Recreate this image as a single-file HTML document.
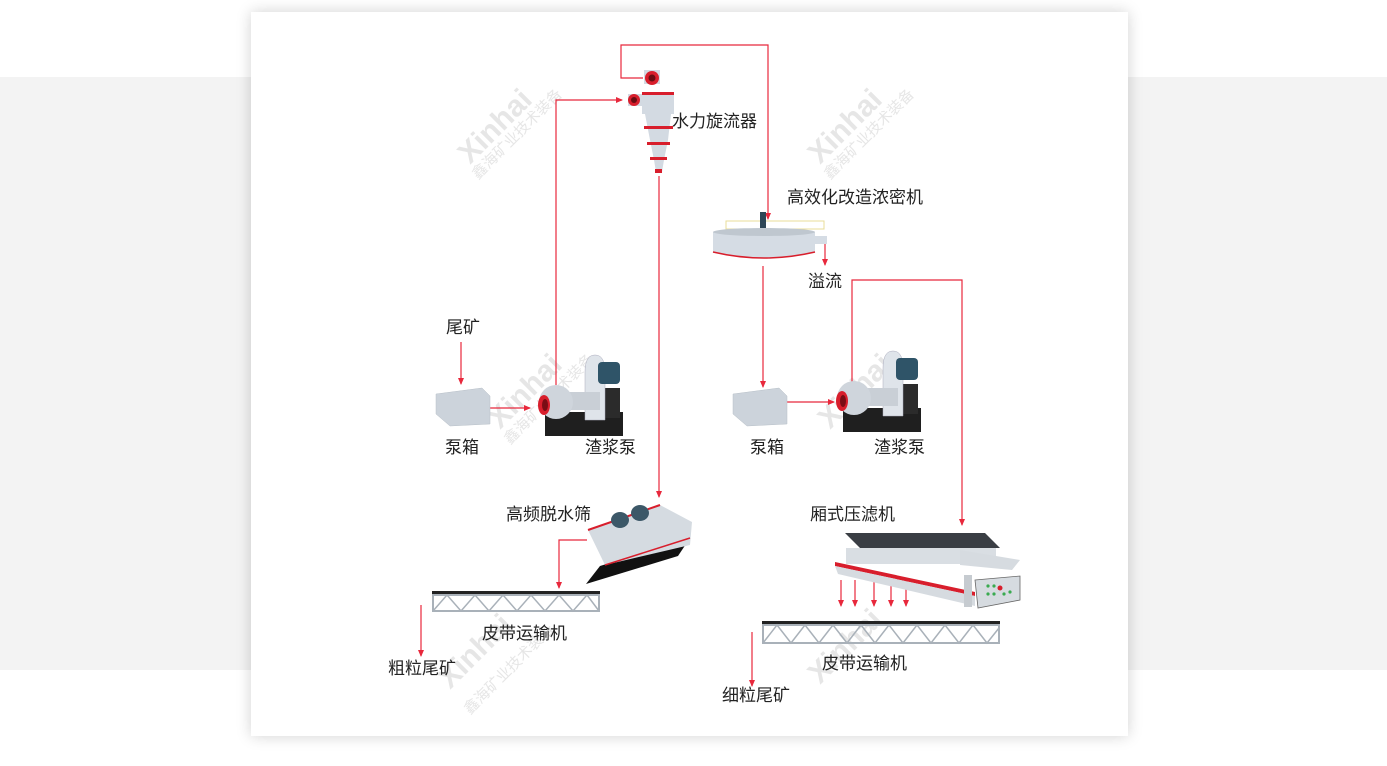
<!DOCTYPE html>
<html><head><meta charset="utf-8"><style>
html,body{margin:0;padding:0;width:1387px;height:766px;overflow:hidden;background:#fff;font-family:"Liberation Sans","Noto Sans CJK SC",sans-serif;}
.band{position:absolute;left:0;top:77px;width:1387px;height:593px;background:#f3f3f3;}
.card{position:absolute;left:251px;top:12px;width:877px;height:724px;background:#fff;box-shadow:0 0 14px rgba(0,0,0,0.18);}
svg{position:absolute;left:0;top:0;}
text{font-family:"Liberation Sans","Noto Sans CJK SC",sans-serif;font-size:17px;fill:#222;}
.wm{font-size:30px;font-weight:bold;fill:#e4e4e4;}
.wm2{font-size:15px;fill:#e4e4e4;}
</style></head><body>
<div class="band"></div>
<div class="card"></div>
<svg width="1387" height="766" viewBox="0 0 1387 766">
<defs>
<marker id="a" markerWidth="8" markerHeight="8" refX="6" refY="4" orient="auto" markerUnits="userSpaceOnUse"><path d="M0,1 L7,4 L0,7 z" fill="#e8283c"/></marker>
<g id="pump">
  <rect x="545" y="412" width="78" height="24" fill="#1f1f1f"/>
  <rect x="600" y="388" width="20" height="30" fill="#2b2b2b"/>
  <path d="M585,420 L585,372 Q585,355 595,355 Q605,355 605,372 L605,420 z" fill="#dfe4ea" stroke="#aab" stroke-width="0.5"/>
  <rect x="598" y="362" width="22" height="22" rx="4" fill="#2f5468"/>
  <rect x="565" y="392" width="35" height="18" fill="#c9cfd6"/>
  <circle cx="556" cy="402" r="17" fill="#cfd5dc"/>
  <ellipse cx="544" cy="405" rx="6" ry="10" fill="#d81e2c"/>
  <ellipse cx="545" cy="405" rx="3" ry="6" fill="#7a0d15"/>
</g>
<g id="box"><path d="M0,0 L46,-6 L54,2 L54,30 L14,32 L0,20 z" fill="#ccd3db" stroke="#b8c0c8" stroke-width="0.5"/></g>
<g id="conv">
  <rect x="0" y="0" width="100" height="5" fill="#222"/>
  <rect x="0" y="5" width="100" height="15" fill="none" stroke="#a8b0b8" stroke-width="2"/>
</g>
</defs>

<g opacity="0.9">
<text class="wm" transform="translate(470,165) rotate(-45)">Xinhai</text>
<text class="wm2" transform="translate(478,180) rotate(-45)">鑫海矿业技术装备</text>
<text class="wm" transform="translate(820,165) rotate(-45)">Xinhai</text>
<text class="wm2" transform="translate(830,180) rotate(-45)">鑫海矿业技术装备</text>
<text class="wm" transform="translate(500,430) rotate(-45)">Xinhai</text>
<text class="wm2" transform="translate(510,445) rotate(-45)">鑫海矿业技术装备</text>
<text class="wm" transform="translate(830,430) rotate(-45)">Xinhai</text>
<text class="wm" transform="translate(450,690) rotate(-45)">Xinhai</text>
<text class="wm2" transform="translate(470,715) rotate(-45)">鑫海矿业技术装备</text>
<text class="wm" transform="translate(820,685) rotate(-45)">Xinhai</text>
</g>

<!-- connectors -->
<g stroke="#e8283c" stroke-width="1.2" fill="none">
<path d="M643,78 L621,78 L621,45 L768,45 L768,219" marker-end="url(#a)"/>
<path d="M556,385 L556,100 L622,100" marker-end="url(#a)"/>
<path d="M659,176 L659,497" marker-end="url(#a)"/>
<path d="M815,240 L825,240 L825,265" marker-end="url(#a)"/>
<path d="M763,266 L763,387" marker-end="url(#a)"/>
<path d="M852,395 L852,280 L962,280 L962,525" marker-end="url(#a)"/>
<path d="M461,342 L461,384" marker-end="url(#a)"/>
<path d="M490,408 L530,408" marker-end="url(#a)"/>
<path d="M786,402 L834,402" marker-end="url(#a)"/>
<path d="M587,540 L559,540 L559,588" marker-end="url(#a)"/>
<path d="M421,605 L421,656" marker-end="url(#a)"/>
<path d="M752,632 L752,686" marker-end="url(#a)"/>
<path d="M841,580 L841,606" marker-end="url(#a)"/>
<path d="M855,580 L855,606" marker-end="url(#a)"/>
<path d="M874,580 L874,606" marker-end="url(#a)"/>
<path d="M891,580 L891,606" marker-end="url(#a)"/>
<path d="M906,580 L906,606" marker-end="url(#a)"/>
</g>

<!-- cyclone -->
<g>
<rect x="642" y="92" width="32" height="22" fill="#d3dae2"/>
<path d="M645,114 L671,114 L668,140 L664,160 L662,172 L656,172 L654,160 L650,140 z" fill="#d3dae2"/>
<rect x="644" y="70" width="16" height="14" fill="#d3dae2"/>
<circle cx="652" cy="78" r="7" fill="#d81e2c"/><circle cx="652" cy="78" r="3.5" fill="#6a0c12"/>
<rect x="628" y="94" width="14" height="12" fill="#d3dae2"/>
<circle cx="634" cy="100" r="6" fill="#d81e2c"/><circle cx="634" cy="100" r="3" fill="#6a0c12"/>
<rect x="642" y="92" width="32" height="3" fill="#d81e2c"/>
<rect x="644" y="126" width="29" height="3" fill="#d81e2c"/>
<rect x="647" y="142" width="23" height="3" fill="#d81e2c"/>
<rect x="650" y="157" width="17" height="3" fill="#d81e2c"/>
<rect x="655" y="169" width="7" height="4" fill="#d81e2c"/>
</g>
<text x="672" y="127">水力旋流器</text>

<!-- thickener -->
<g>
<rect x="726" y="221" width="98" height="8" fill="none" stroke="#e9dc9a" stroke-width="1"/>
<path d="M713,232 L815,232 L815,252 Q764,264 713,252 z" fill="#d5dce4"/>
<ellipse cx="764" cy="232" rx="51" ry="4" fill="#bfc7cf"/>
<path d="M713,252 Q764,264 815,252" stroke="#d81e2c" stroke-width="1.5" fill="none"/>
<rect x="760" y="212" width="6" height="16" fill="#2e4656"/>
<rect x="815" y="236" width="12" height="8" fill="#d5dce4"/>
</g>
<text x="787" y="203">高效化改造浓密机</text>
<text x="808" y="287">溢流</text>

<!-- left feed -->
<text x="446" y="333">尾矿</text>
<use href="#box" transform="translate(436,394)"/>
<use href="#pump"/>
<text x="445" y="453">泵箱</text>
<text x="585" y="453">渣浆泵</text>

<!-- right feed -->
<use href="#box" transform="translate(733,394)"/>
<use href="#pump" transform="translate(298,-4)"/>
<text x="750" y="453">泵箱</text>
<text x="874" y="453">渣浆泵</text>

<!-- screen -->
<g>
<path d="M586,584 L600,566 L690,538 L678,556 z" fill="#111"/>
<path d="M588,530 L660,505 L692,522 L690,545 L605,565 z" fill="#d5dbe1"/>
<path d="M588,530 L660,505" stroke="#d81e2c" stroke-width="2"/>
<path d="M605,565 L690,538" stroke="#d81e2c" stroke-width="1.5"/>
<ellipse cx="620" cy="520" rx="9" ry="8" fill="#3c5868"/>
<ellipse cx="640" cy="513" rx="9" ry="8" fill="#3c5868"/>
</g>
<text x="506" y="520">高频脱水筛</text>

<!-- left conveyor -->
<g>
<rect x="432" y="591" width="168" height="4" fill="#222"/>
<rect x="433" y="595" width="166" height="16" fill="none" stroke="#a9b1b9" stroke-width="2"/>
<path d="M433,611 L447,595 L461,611 L475,595 L489,611 L503,595 L517,611 L531,595 L545,611 L559,595 L573,611 L587,595 L599,611" stroke="#a9b1b9" fill="none" stroke-width="1.5"/>
</g>
<text x="482" y="639">皮带运输机</text>
<text x="388" y="674">粗粒尾矿</text>

<!-- filter press -->
<g>
<path d="M845,533 L985,533 L1000,548 L860,548 z" fill="#3a3e44"/>
<rect x="846" y="548" width="150" height="16" fill="#d9dee3"/>
<path d="M835,562 L975,592 L975,596 L835,566 z" fill="#d81e2c"/>
<path d="M835,566 L975,596 L975,606 L838,574 z" fill="#d6dbe0"/>
<rect x="964" y="575" width="8" height="32" fill="#c6cbd0"/>
<path d="M960,550 L1020,560 L1012,570 L960,565 z" fill="#d6dbe0"/>
<path d="M975,580 L1020,576 L1020,600 L978,608 z" fill="#d6dbe0" stroke="#666" stroke-width="0.8"/>
<circle cx="1000" cy="588" r="2.5" fill="#d81e2c"/>
<g fill="#3aaa50"><circle cx="988" cy="586" r="1.6"/><circle cx="994" cy="586" r="1.6"/><circle cx="988" cy="594" r="1.6"/><circle cx="994" cy="594" r="1.6"/><circle cx="1004" cy="594" r="1.6"/><circle cx="1010" cy="592" r="1.6"/></g>
</g>
<text x="810" y="520">厢式压滤机</text>

<!-- right conveyor -->
<g>
<rect x="762" y="621" width="238" height="4" fill="#222"/>
<rect x="763" y="625" width="236" height="18" fill="none" stroke="#a9b1b9" stroke-width="2"/>
<path d="M763,643 L777,625 L791,643 L805,625 L819,643 L833,625 L847,643 L861,625 L875,643 L889,625 L903,643 L917,625 L931,643 L945,625 L959,643 L973,625 L987,643 L999,628" stroke="#a9b1b9" fill="none" stroke-width="1.5"/>
</g>
<text x="822" y="669">皮带运输机</text>
<text x="722" y="701">细粒尾矿</text>
</svg>
</body></html>
